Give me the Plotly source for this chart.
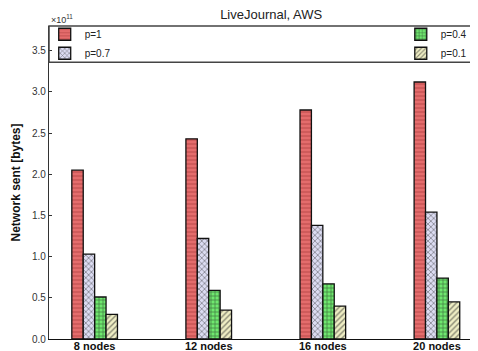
import plotly.graph_objects as go

categories = ["8 nodes", "12 nodes", "16 nodes", "20 nodes"]
series_names = ["p=1", "p=0.7", "p=0.4", "p=0.1"]
p1 = [2.05e11, 2.43e11, 2.78e11, 3.12e11]
p07 = [1.03e11, 1.22e11, 1.38e11, 1.54e11]
p04 = [0.51e11, 0.59e11, 0.67e11, 0.74e11]
p01 = [0.30e11, 0.35e11, 0.40e11, 0.45e11]
y_ticks = [0, 0.5e11, 1.0e11, 1.5e11, 2.0e11, 2.5e11, 3.0e11, 3.5e11]
y_tick_labels = ["0.0", "0.5", "1.0", "1.5", "2.0", "2.5", "3.0", "3.5"]

values = [p1, p07, p04, p01]
styles = [
    dict(bg="#e46c6c", fg="#a83a3a", shape="-", legend="legend"),
    dict(bg="#dcdcf2", fg="#222222", shape="x", legend="legend"),
    dict(bg="#6fe86f", fg="#1a1a1a", shape="+", legend="legend2"),
    dict(bg="#efeec4", fg="#222222", shape="/", legend="legend2"),
]
bw = 0.1
offsets = [-1.5 * bw, -0.5 * bw, 0.5 * bw, 1.5 * bw]

fig = go.Figure()
xs = list(range(len(categories)))
for name, vals, st, off in zip(series_names, values, styles, offsets):
    fig.add_trace(go.Bar(
        x=[x + off for x in xs], y=vals, width=bw, name=name,
        marker=dict(color=st["bg"], line=dict(color="#111111", width=1.3),
                    pattern=dict(shape=st["shape"], fgcolor=st["fg"], bgcolor=st["bg"],
                                 size=4, solidity=0.35)),
        legend=st["legend"],
    ))

# page body has an 8px default margin, so the figure is sized to end at the window edge
font = "Arial, Liberation Sans, sans-serif"
fig.update_layout(
    width=470, height=343,
    margin=dict(l=41, r=0, t=18, b=12),
    plot_bgcolor="white", paper_bgcolor="white",
    barmode="overlay",
    font=dict(family=font, size=10, color="#222222"),
    title=dict(text="LiveJournal, AWS", x=0.56, xanchor="center", y=0.995, yanchor="top",
               pad=dict(t=0), font=dict(size=13, color="#222222")),
    xaxis=dict(range=[-0.40, 3.36], tickvals=xs, ticktext=["<b>%s</b>" % c for c in categories],
               showgrid=False, zeroline=False, showline=True, linecolor="#111111", linewidth=1.3,
               ticks="", tickfont=dict(size=11, color="#111111"), ticklabelstandoff=-3),
    yaxis=dict(range=[0, 3.8e11], tickvals=y_ticks, ticktext=y_tick_labels,
               showgrid=False, zeroline=False, showline=True, linecolor="#333333", linewidth=1.3,
               ticks="inside", ticklen=3, tickcolor="#333333",
               tickfont=dict(size=10, color="#333333"),
               title=dict(text="<b>Network sent [bytes]</b>", font=dict(size=12, color="#111111"),
                          standoff=8)),
    legend=dict(x=-0.01, y=1.02, xanchor="left", yanchor="top", bgcolor="rgba(0,0,0,0)",
                font=dict(size=10), tracegroupgap=0, itemwidth=30),
    legend2=dict(x=0.82, y=1.02, xanchor="left", yanchor="top", bgcolor="rgba(0,0,0,0)",
                 font=dict(size=10), tracegroupgap=0, itemwidth=30),
    showlegend=True,
)
# legend box frame
fig.add_shape(type="rect", xref="paper", yref="paper", x0=0, x1=1, y0=(3.36 / 3.8), y1=1,
              line=dict(color="#444444", width=1.5), fillcolor="rgba(0,0,0,0)", layer="above")
fig.add_annotation(text="×10<sup>11</sup>", xref="paper", yref="paper", x=0.0, y=1.0,
                   xanchor="left", yanchor="bottom", showarrow=False, yshift=-1,
                   font=dict(size=9, color="#333333"))

fig.write_html("out.html")
